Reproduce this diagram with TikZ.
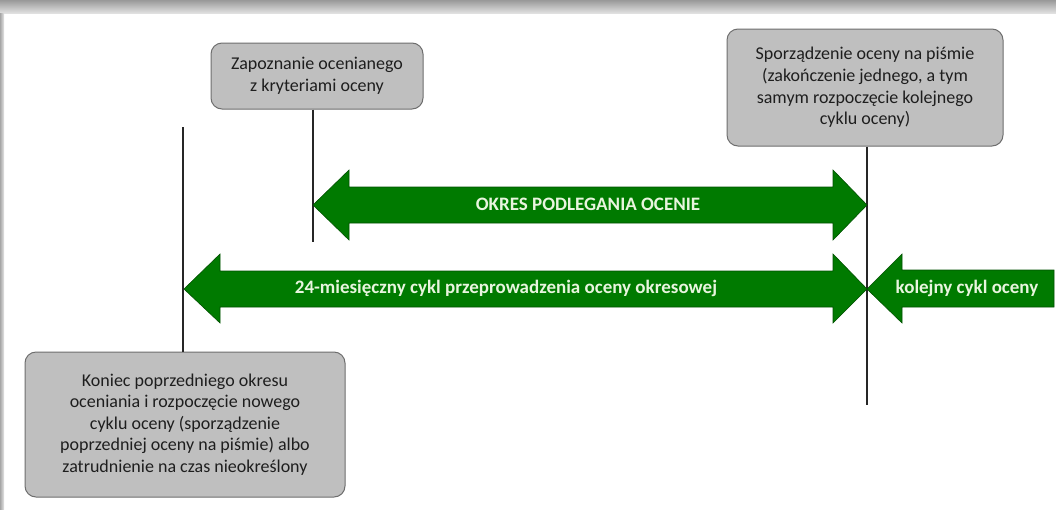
\documentclass[tikz,border=0pt]{standalone}
\usepackage{fontspec}
\setmainfont{Carlito}
\definecolor{arrgreen}{RGB}{0,122,0}
\definecolor{arrline}{RGB}{0,80,0}
\definecolor{arrtext}{RGB}{232,245,222}
\definecolor{boxfill}{RGB}{191,191,191}
\definecolor{boxline}{RGB}{110,110,110}
\definecolor{txt}{RGB}{30,30,30}
\tikzset{
  infobox/.style={draw=boxline, line width=1pt, fill=boxfill, rounded corners=11pt,
    align=center, text=txt, font=\fontsize{18}{21.6}\selectfont, inner sep=0pt},
  greenarrow/.style={fill=arrgreen, draw=arrline, line width=0.6pt},
  arrlabel/.style={text=arrtext, font=\fontsize{19}{23}\selectfont\bfseries, inner sep=0pt},
  tick/.style={draw=black!85, line width=1.1pt}
}
\begin{document}
\begin{tikzpicture}[x=1pt,y=-1pt]
\useasboundingbox (0,0) rectangle (1056,509);
\fill[white] (0,0) rectangle (1056,509);
\shade[top color=black!40, bottom color=black!12] (0,0) rectangle (1056,13);
\shade[left color=black!35, right color=black!10] (0,13) rectangle (4,509);

% boxes
\node[infobox, minimum width=212pt, minimum height=66pt] (b1) at (317,76)
  {Zapoznanie ocenianego\\z kryteriami oceny};
\node[infobox, minimum width=276pt, minimum height=117pt] (b2) at (865,87.5)
  {Sporządzenie oceny na piśmie\\(zakończenie jednego, a tym\\samym rozpoczęcie kolejnego\\cyklu oceny)};
\node[infobox, minimum width=320pt, minimum height=145pt] (b3) at (185,424.5)
  {Koniec poprzedniego okresu\\oceniania i rozpoczęcie nowego\\cyklu oceny (sporządzenie\\poprzedniej oceny na piśmie) albo\\zatrudnienie na czas nieokreślony};

% tick lines
\coordinate (t1) at (313,242);
\coordinate (t2) at (867,405);
\coordinate (t3) at (183,127);
\draw[tick] (b1.south -| t1) -- (t1);
\draw[tick] (b2.south -| t2) -- (t2);
\draw[tick] (b3.north -| t3) -- (t3);

% arrow 1 (double)
\draw[greenarrow] (313,205) -- (349,170) -- (349,187) -- (833,187) -- (833,170)
  -- (867,205) -- (833,240) -- (833,223) -- (349,223) -- (349,240) -- cycle;
\node[arrlabel] (l1) at (588,204) {OKRES PODLEGANIA OCENIE};

% arrow 2 (double)
\draw[greenarrow] (184,289) -- (220,254) -- (220,271) -- (833,271) -- (833,254)
  -- (867,289) -- (833,323) -- (833,307) -- (220,307) -- (220,323) -- cycle;
\node[arrlabel] (l2) at (506,288) {24-miesięczny cykl przeprowadzenia oceny okresowej};

% arrow 3 (left)
\draw[greenarrow] (867,289) -- (902,254) -- (902,270) -- (1054,270) -- (1054,307)
  -- (902,307) -- (902,323) -- cycle;
\node[arrlabel] (l3) at (967,288) {kolejny cykl oceny};
\end{tikzpicture}
\end{document}
